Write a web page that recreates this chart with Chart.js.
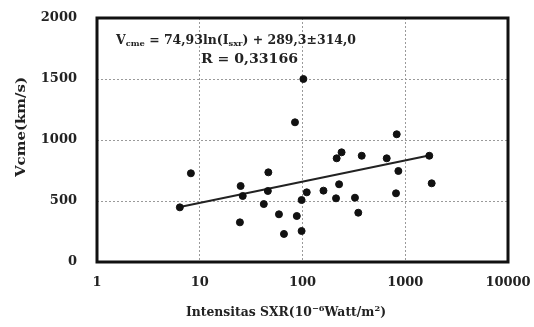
<!DOCTYPE html>
<html>
<head>
<meta charset="utf-8">
<script src="https://cdn.jsdelivr.net/npm/chart.js@4"></script>
<style>
  html, body { margin: 0; padding: 0; background: #fff; }
  #wrap { width: 534px; height: 327px; }
</style>
</head>
<body>
<div id="wrap"><canvas id="chart" width="534" height="327"></canvas></div>
<script>
// SXR intensity (10^-6 Watt/m^2) and CME speed (km/s)
const intensity = [6.4, 8.2, 25, 24.6, 26.2, 42, 46, 46.5, 59, 66, 84.5, 88, 98, 98, 102,
  110, 160, 212, 215, 227, 240, 324, 349, 377, 660, 813, 826, 857, 1714, 1808];
const speed = [448, 727, 623, 325, 541, 475, 582, 735, 391, 230, 1145, 377, 254, 508, 1500,
  571, 585, 522, 850, 637, 899, 527, 404, 871, 850, 563, 1047, 746, 871, 645];

// regression line end points
const fitX = [6.4, 1750];
const fitY = [450, 875];

const xTicks = [1, 10, 100, 1000, 10000];
const yTicks = [0, 500, 1000, 1500, 2000];

// text pieces: [text, subscript?]
const eqLine1 = [['V', false], ['cme', true], [' = 74,93ln(I', false], ['sxr', true], [') + 289,3\u00b1314,0', false]];
const eqLine2 = [['R = 0,33166', false]];
const yTitle = [['Vcme(km/s)', false]];
const xTitle = [['Intensitas SXR(10', false], ['\u22126', 'sup'], ['Watt/m', false], ['2', 'sup'], [')', false]];

const serif = '"DejaVu Serif", "Liberation Serif", serif';
const ink = '#222';

// draws text pieces starting at x (left), stretched to width w
function drawPieces(ctx, pieces, x, y, size, w) {
    const big = 'bold ' + size + 'px ' + serif;
    const small = 'bold ' + Math.round(size * 0.7) + 'px ' + serif;
    let total = 0;
    pieces.forEach(([t, s]) => {
        ctx.font = s ? small : big;
        total += ctx.measureText(t).width;
    });
    const k = w ? w / total : 1;
    ctx.save();
    ctx.translate(x, y);
    ctx.scale(k, 1);
    let cx = 0;
    pieces.forEach(([t, s]) => {
        ctx.font = s ? small : big;
        const dy = s === 'sup' ? -size * 0.35 : (s ? size * 0.25 : 0);
        ctx.fillText(t, cx, dy);
        cx += ctx.measureText(t).width;
    });
    ctx.restore();
}

const framePlugin = {
    id: 'frame',
    afterDraw(chart) {
        const { ctx, chartArea: a } = chart;
        ctx.save();
        ctx.strokeStyle = '#111';
        ctx.lineWidth = 3;
        ctx.strokeRect(a.left, a.top, a.right - a.left, a.bottom - a.top);

        ctx.fillStyle = ink;
        ctx.textBaseline = 'middle';
        ctx.textAlign = 'left';
        drawPieces(ctx, eqLine1, 116, 41, 12, 240);
        drawPieces(ctx, eqLine2, 201, 60, 12, 97);
        drawPieces(ctx, xTitle, 186, 313, 12, 200);

        ctx.translate(22, 177);
        ctx.rotate(-Math.PI / 2);
        drawPieces(ctx, yTitle, 0, 0, 12, 100);
        ctx.restore();
    }
};

const pts = intensity.map((v, i) => ({ x: v, y: speed[i] }));
const fit = fitX.map((v, i) => ({ x: v, y: fitY[i] }));

function noPad(s) {
    s.paddingLeft = 0;
    s.paddingRight = 0;
    s.paddingTop = 0;
    s.paddingBottom = 0;
}

new Chart(document.getElementById('chart'), {
    type: 'scatter',
    data: {
        datasets: [
            {
                label: 'data',
                data: pts,
                backgroundColor: '#111',
                borderColor: '#111',
                pointRadius: 3.5,
                pointHoverRadius: 3.5,
            },
            {
                label: 'fit',
                type: 'line',
                data: fit,
                borderColor: ink,
                borderWidth: 2,
                pointRadius: 0,
                fill: false,
            },
        ],
    },
    options: {
        responsive: false,
        animation: false,
        events: [],
        layout: { padding: { top: 18, right: 26, left: 0, bottom: 0 } },
        plugins: {
            legend: { display: false },
            tooltip: { enabled: false },
        },
        scales: {
            x: {
                type: 'logarithmic',
                min: 1,
                max: 10000,
                afterBuildTicks: (s) => { s.ticks = xTicks.map((v) => ({ value: v, major: true })); },
                afterFit: (s) => { s.height = 65; noPad(s); },
                grid: {
                    drawTicks: false,
                    color: (c) => (c.tick && (c.tick.value === 1 || c.tick.value === 10000)) ? 'rgba(0,0,0,0)' : '#9a9a9a',
                    lineWidth: 1,
                },
                border: { display: false, dash: [2, 2] },
                ticks: {
                    autoSkip: false,
                    maxRotation: 0,
                    padding: 13,
                    color: ink,
                    font: { family: serif, size: 13, weight: 'bold' },
                    callback: (v) => String(v),
                },
            },
            y: {
                min: 0,
                max: 2000,
                afterBuildTicks: (s) => { s.ticks = yTicks.map((v) => ({ value: v })); },
                afterFit: (s) => { s.width = 97; noPad(s); },
                grid: {
                    drawTicks: false,
                    color: (c) => (c.tick && (c.tick.value === 0 || c.tick.value === 2000)) ? 'rgba(0,0,0,0)' : '#9a9a9a',
                    lineWidth: 1,
                },
                border: { display: false, dash: [2, 2] },
                ticks: {
                    padding: 20,
                    color: ink,
                    font: { family: serif, size: 13, weight: 'bold' },
                    callback: (v) => String(v),
                },
            },
        },
    },
    plugins: [framePlugin],
});
</script>
</body>
</html>
